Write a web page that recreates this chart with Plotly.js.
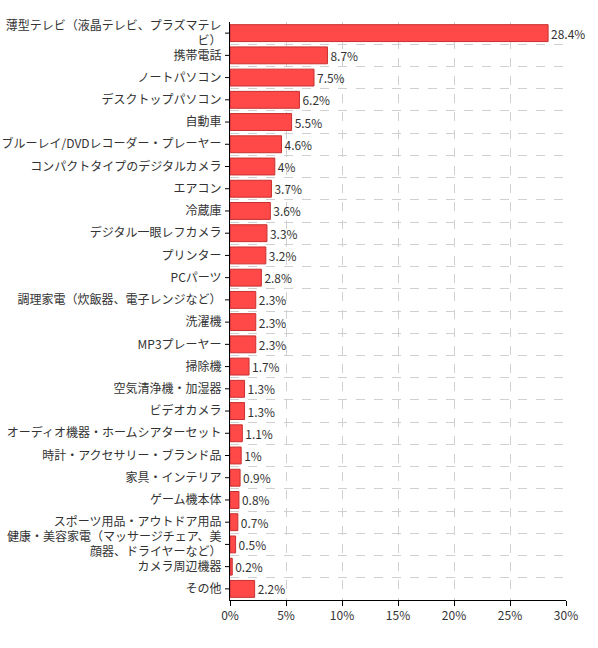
<!DOCTYPE html>
<html>
<head>
<meta charset="utf-8">
<script src="https://cdn.plot.ly/plotly-3.0.1.min.js"></script>
<style>
  html, body { margin: 0; padding: 0; background: #fff; }
  #chart { width: 598px; height: 648px; }
</style>
</head>
<body>
<div id="chart"></div>
<script>
const categories = [
  '薄型テレビ（液晶テレビ、プラズマテレ<br>ビ）',
  '携帯電話',
  'ノートパソコン',
  'デスクトップパソコン',
  '自動車',
  'ブルーレイ/DVDレコーダー・プレーヤー',
  'コンパクトタイプのデジタルカメラ',
  'エアコン',
  '冷蔵庫',
  'デジタル一眼レフカメラ',
  'プリンター',
  'PCパーツ',
  '調理家電（炊飯器、電子レンジなど）',
  '洗濯機',
  'MP3プレーヤー',
  '掃除機',
  '空気清浄機・加湿器',
  'ビデオカメラ',
  'オーディオ機器・ホームシアターセット',
  '時計・アクセサリー・ブランド品',
  '家具・インテリア',
  'ゲーム機本体',
  'スポーツ用品・アウトドア用品',
  '健康・美容家電（マッサージチェア、美<br>顔器、ドライヤーなど）',
  'カメラ周辺機器',
  'その他'
];
const shares = [28.4, 8.7, 7.5, 6.2, 5.5, 4.6, 4, 3.7, 3.6, 3.3, 3.2, 2.8, 2.3, 2.3, 2.3, 1.7, 1.3, 1.3, 1.1, 1, 0.9, 0.8, 0.7, 0.5, 0.2, 2.2];
const xTicks = [0, 5, 10, 15, 20, 25, 30];

const font = { family: '"Noto Sans CJK JP", "Noto Sans", sans-serif', size: 12, color: '#333' };

const bars = {
  type: 'bar',
  orientation: 'h',
  x: shares,
  y: categories,
  width: 0.76,
  marker: { color: '#ff4848', line: { color: '#c83030', width: 1 } },
  text: shares.map(v => v + '%'),
  texttemplate: '%{text}',
  textposition: 'outside',
  cliponaxis: false,
  textfont: font,
  hoverinfo: 'skip'
};

const plotWidth = 598 - 230 - 32;

// grid sits on the row boundaries, so the small ticks at each label are drawn as shapes
const tickShapes = categories.map(c => ({
  type: 'line',
  xref: 'paper',
  yref: 'y',
  x0: -5 / plotWidth,
  x1: 0,
  y0: c,
  y1: c,
  line: { color: '#000', width: 1 },
  layer: 'above'
}));

const layout = {
  width: 598,
  height: 648,
  margin: { l: 230, r: 32, t: 22, b: 48 },
  paper_bgcolor: '#fff',
  plot_bgcolor: '#fff',
  showlegend: false,
  font: font,
  shapes: tickShapes,
  xaxis: {
    range: [0, 30],
    tickvals: xTicks,
    ticktext: xTicks.map(v => v + '%'),
    ticks: 'outside',
    ticklen: 5,
    tickcolor: '#000',
    showline: true,
    linecolor: '#000',
    showgrid: true,
    gridcolor: '#d0d0d0',
    griddash: 'dash',
    zeroline: false,
    tickfont: font
  },
  yaxis: {
    type: 'category',
    autorange: 'reversed',
    tickson: 'boundaries',
    ticks: '',
    ticklabelstandoff: 5,
    showline: true,
    linecolor: '#000',
    showgrid: true,
    gridcolor: '#d0d0d0',
    griddash: 'dash',
    tickfont: font
  }
};

Plotly.newPlot('chart', [bars], layout, { displayModeBar: false, staticPlot: true });
</script>
</body>
</html>
